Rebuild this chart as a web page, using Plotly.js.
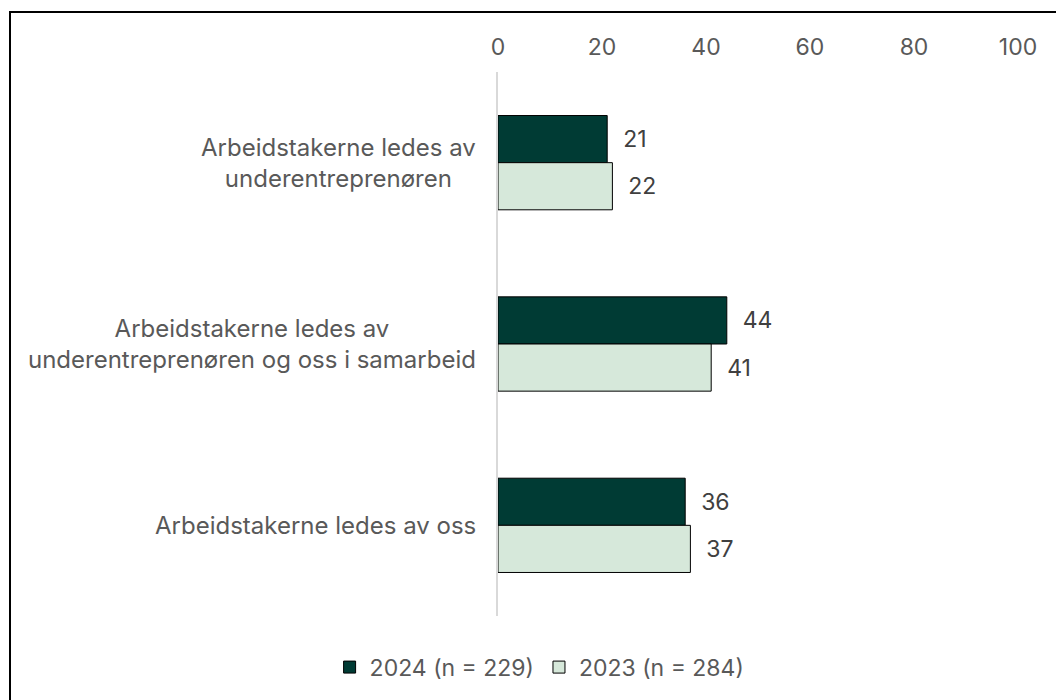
<!DOCTYPE html>
<html>
<head>
<meta charset="utf-8">
<script src="https://cdn.plot.ly/plotly-3.0.1.min.js"></script>
<style>
  html, body { margin: 0; padding: 0; background: #fff; overflow: hidden; }
  #frame { position: absolute; left: 9px; top: 11px; width: 1100px; height: 760px; border: 2px solid #000; pointer-events: none; z-index: 5; }
  #chart { position: absolute; left: 0; top: 0; width: 1056px; height: 700px; }
</style>
</head>
<body>
<div id="chart"></div>
<div id="frame"></div>
<script>
const categories = [
  "Arbeidstakerne ledes av<br>underentreprenøren",
  "Arbeidstakerne ledes av<br>underentreprenøren og oss i samarbeid",
  "Arbeidstakerne ledes av oss"
];
const series2024 = [21, 44, 36];
const series2023 = [22, 41, 37];
const seriesNames = ["2024 (n = 229)", "2023 (n = 284)"];
const xTicks = [0, 20, 40, 60, 80, 100];

const colors = ["#003b34", "#d6e8da"];
const nb = "\u00a0\u00a0";
const FONT = "Inter, sans-serif";
const FS = 23;

const traces = [series2024, series2023].map((vals, i) => ({
  type: "bar",
  orientation: "h",
  name: seriesNames[i],
  y: categories,
  x: vals,
  marker: { color: colors[i], line: { color: "#000", width: 1 } },
  text: vals.map(v => nb + v),
  textposition: "outside",
  texttemplate: "%{text}",
  textfont: { family: FONT, size: FS, color: "#404040" },
  cliponaxis: false,
  hoverinfo: "x+name"
}));

const annotations = categories.map(c => ({
  xref: "paper", yref: "y",
  x: 0, y: c,
  xanchor: "right", yanchor: "middle",
  xshift: -20,
  text: c,
  align: "center",
  showarrow: false,
  font: { family: FONT, size: 24, color: "#595959" }
}));

const layout = {
  width: 1056, height: 700,
  margin: { l: 498, r: 38, t: 72, b: 83 },
  paper_bgcolor: "#fff",
  plot_bgcolor: "#fff",
  font: { family: FONT, size: FS, color: "#595959" },
  barmode: "group",
  bargap: 0.48,
  bargroupgap: 0,
  showlegend: true,
  legend: {
    orientation: "h",
    x: 0.08, xanchor: "center",
    y: -0.092, yanchor: "middle",
    font: { family: FONT, size: FS, color: "#595959" },
    traceorder: "normal",
    itemwidth: 30
  },
  xaxis: {
    side: "top",
    range: [0, 100],
    tickvals: xTicks,
    ticktext: xTicks.map(String),
    showgrid: false,
    zeroline: false,
    showline: false,
    ticks: "",
    ticklabelstandoff: 11,
    tickfont: { family: FONT, size: FS, color: "#595959" },
    fixedrange: true
  },
  yaxis: {
    type: "category",
    autorange: "reversed",
    showticklabels: false,
    showgrid: false,
    zeroline: false,
    showline: true,
    linecolor: "#d9d9d9",
    linewidth: 2,
    ticks: "",
    fixedrange: true
  },
  annotations: annotations
};

Plotly.newPlot("chart", traces, layout, { displayModeBar: false, staticPlot: true });
</script>
</body>
</html>
